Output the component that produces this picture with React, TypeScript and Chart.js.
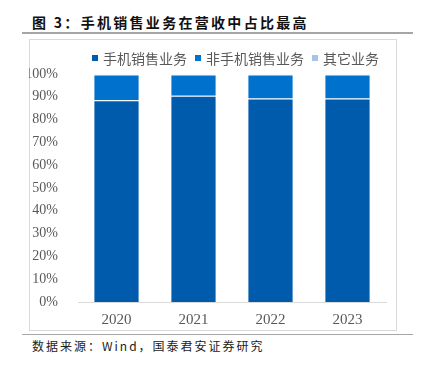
import React, { useEffect, useRef } from "react";
import { Chart, registerables } from "chart.js";

Chart.register(...registerables);

const categories = ["2020", "2021", "2022", "2023"];
const seriesNames = ["手机销售业务", "非手机销售业务", "其它业务"];
const phoneSales = [88.5, 90.5, 89.2, 89.2];
const otherSales = [0.2, 0.2, 0.2, 0.2];
const nonPhoneSales = phoneSales.map((v, i) => +(100 - v - otherSales[i]).toFixed(2));
const seriesColors = ["#005BAC", "#0072CE", "#A9C3E8"];
const yTicks = [0, 10, 20, 30, 40, 50, 60, 70, 80, 90, 100];

const title = "图 3：手机销售业务在营收中占比最高";
const source = "数据来源：Wind，国泰君安证券研究";

export default function App() {
  const ref = useRef<HTMLCanvasElement | null>(null);

  useEffect(() => {
    if (!ref.current) return;
    const chart = new Chart(ref.current, {
      type: "bar",
      data: {
        labels: categories,
        datasets: [
          { label: seriesNames[0], data: phoneSales, backgroundColor: seriesColors[0] },
          { label: seriesNames[1], data: nonPhoneSales, backgroundColor: seriesColors[1] },
          { label: seriesNames[2], data: otherSales, backgroundColor: seriesColors[2] },
        ].map((d) => ({
          ...d,
          borderColor: "rgba(255,255,255,0.25)",
          borderWidth: 1,
          barPercentage: 0.6,
          categoryPercentage: 1,
        })),
      },
      options: {
        animation: false,
        responsive: false,
        maintainAspectRatio: false,
        layout: { padding: { top: 35, right: 10, bottom: 2, left: 0 } },
        plugins: { legend: { display: false }, tooltip: { enabled: false } },
        scales: {
          x: {
            stacked: true,
            grid: { display: false },
            border: { display: true, color: "#D9D9D9", width: 1 },
            ticks: {
              color: "#595959",
              padding: 1,
              font: { family: "'Liberation Serif', 'Times New Roman', serif", size: 15 },
            },
          },
          y: {
            stacked: true,
            min: 0,
            max: 100,
            grid: { display: false },
            border: { display: false },
            afterFit: (s: any) => {
              s.width = 49;
            },
            afterBuildTicks: (s: any) => {
              s.ticks = yTicks.map((v) => ({ value: v }));
            },
            ticks: {
              color: "#595959",
              padding: 12,
              font: { family: "'Liberation Serif', 'Times New Roman', serif", size: 14 },
              callback: (v: any) => v + "%",
            },
          },
        },
      },
    });
    return () => chart.destroy();
  }, []);

  const cjk = "'Noto Sans CJK SC', 'Noto Sans', sans-serif";

  return (
    <div style={{ position: "absolute", left: 0, top: 0, width: 421, height: 367, background: "#fff", overflow: "hidden" }}>
      <div
        style={{
          position: "absolute",
          left: 32,
          top: 12,
          height: 20,
          lineHeight: "20px",
          fontFamily: cjk,
          fontWeight: 700,
          fontSize: 14,
          letterSpacing: 2.3,
          color: "#111",
          whiteSpace: "nowrap",
        }}
      >
        {title}
      </div>
      <div style={{ position: "absolute", left: 22, top: 32, width: 391, height: 2, background: "#A6A6A6" }} />
      <div
        style={{
          position: "absolute",
          left: 29,
          top: 39,
          width: 366,
          height: 290,
          border: "1px solid #D9D9D9",
          boxSizing: "content-box",
        }}
      />
      <canvas ref={ref} width={367} height={293} style={{ position: "absolute", left: 29, top: 39, width: 367, height: 293 }} />
      <div
        style={{
          position: "absolute",
          left: 92,
          top: 49,
          height: 18,
          display: "flex",
          alignItems: "center",
          fontFamily: cjk,
          fontSize: 14,
          color: "#595959",
          whiteSpace: "nowrap",
        }}
      >
        {seriesNames.map((n, i) => (
          <div key={n} style={{ display: "flex", alignItems: "center", marginRight: 8 }}>
            <span style={{ display: "inline-block", width: 6, height: 6, background: seriesColors[i], marginRight: 5 }} />
            <span style={{ lineHeight: "18px" }}>{n}</span>
          </div>
        ))}
      </div>
      <div style={{ position: "absolute", left: 22, top: 334, width: 391, height: 1, background: "#A6A6A6" }} />
      <div
        style={{
          position: "absolute",
          left: 32,
          top: 337,
          height: 18,
          lineHeight: "18px",
          fontFamily: cjk,
          fontSize: 12,
          letterSpacing: 2,
          color: "#222",
          whiteSpace: "nowrap",
        }}
      >
        {source}
      </div>
    </div>
  );
}
